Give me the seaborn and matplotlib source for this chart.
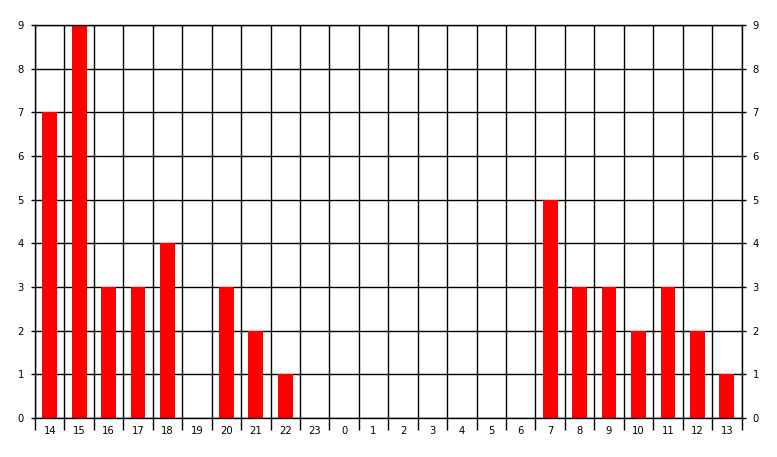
import pandas as pd
import matplotlib
matplotlib.use("Agg")
import matplotlib.pyplot as plt
import seaborn as sns
from matplotlib.ticker import FixedLocator

# hourly counts
hours = ["14", "15", "16", "17", "18", "19", "20", "21", "22", "23",
         "0", "1", "2", "3", "4", "5", "6", "7", "8", "9", "10", "11", "12", "13"]
counts = [7, 9, 3, 3, 4, 0, 3, 2, 1, 0,
          0, 0, 0, 0, 0, 0, 0, 5, 3, 3, 2, 3, 2, 1]
y_ticks = list(range(0, 10))

df = pd.DataFrame({"hour": hours, "count": counts})

sns.set_style("white")
plt.rcParams["font.family"] = ["DejaVu Sans"]

fig = plt.figure(figsize=(7.77, 4.57), dpi=100)
ax = fig.add_axes([35 / 777, 39 / 457, 706.5 / 777, 393 / 457])

sns.barplot(data=df, x="hour", y="count", order=hours, color="#ff0000",
            saturation=1, width=0.5, linewidth=0, ax=ax)

n = len(hours)
ax.set_xlim(-0.5, n - 0.5)
ax.set_ylim(0, 9)
ax.set_yticks(y_ticks)

# boundaries between categories: grid + long tick marks
bounds = [i - 0.5 for i in range(n + 1)]
ax.xaxis.set_minor_locator(FixedLocator(bounds))
ax.grid(True, which="minor", axis="x", color="black", linewidth=1)
ax.grid(True, which="major", axis="y", color="black", linewidth=1)
ax.set_axisbelow(True)

ax.tick_params(axis="x", which="major", bottom=False, length=0,
               labelsize=7.2, labelcolor="black", pad=6)
ax.tick_params(axis="x", which="minor", bottom=True, length=8.6, width=1,
               color="black")
ax.tick_params(axis="y", which="major", length=3, width=1, color="black",
               labelsize=7.2, labelcolor="black", left=True, right=True,
               labelright=True, pad=5)

for side in ["left", "right", "bottom", "top"]:
    ax.spines[side].set_visible(True)
    ax.spines[side].set_color("black")
    ax.spines[side].set_linewidth(1)

ax.set_xlabel("")
ax.set_ylabel("")

fig.savefig("out.png", dpi=100)
